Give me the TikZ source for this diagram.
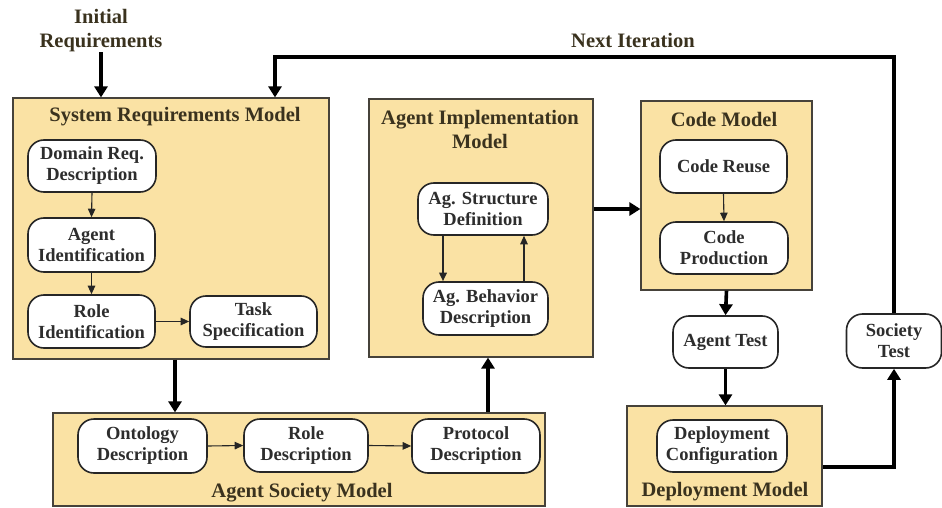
\documentclass[tikz,border=0pt]{standalone}
\usepackage{fontspec}
\setmainfont{Liberation Serif}
\usetikzlibrary{arrows.meta}
\definecolor{modelfill}{RGB}{250,226,164}
\definecolor{modeledge}{RGB}{70,66,58}
\definecolor{titlecol}{RGB}{58,50,30}
\definecolor{textcol}{RGB}{45,45,45}
\tikzset{
  x=1pt, y=-1pt,
  model/.style={draw=modeledge, line width=1.2pt, fill=modelfill, inner sep=0pt},
  activity/.style={draw=black!85, line width=1.6pt, fill=white, rounded corners=16pt,
    inner sep=0pt, align=center, text=textcol,
    font=\bfseries\fontsize{18.5}{21}\selectfont},
  heading/.style={align=center, text=titlecol, inner sep=0pt,
    font=\bfseries\fontsize{20.5}{24}\selectfont},
  flow/.style={line width=3.6pt, draw=black, -{Triangle[width=13pt,length=11pt]}},
  link/.style={line width=1.1pt, draw=black!85, -{Triangle[width=7.5pt,length=8.5pt]}},
}
\begin{document}
\begin{tikzpicture}
\useasboundingbox (0,0) rectangle (942,508);

% model containers
\node[model, minimum width=316pt, minimum height=261pt] (srm) at (171,228.5) {};
\node[model, minimum width=224pt, minimum height=258pt] (aim) at (481,228) {};
\node[model, minimum width=171pt, minimum height=189pt] (cm) at (726.5,195.5) {};
\node[model, minimum width=492pt, minimum height=93pt] (asm) at (299,459.5) {};
\node[model, minimum width=195pt, minimum height=100pt] (dm) at (724.5,456) {};

% container headings
\node[heading] (srmt) at (175,117) {System Requirements Model};
\node[heading] (aimt) at (480,129) {Agent Implementation\\Model};
\node[heading] (cmt) at (724,119) {Code Model};
\node[heading] (asmt) at (302,493) {Agent Society Model};
\node[heading] (dmt) at (725,492) {Deployment Model};
\node[heading] (init) at (101,31) {Initial\\Requirements};
\node[heading] (nextt) at (633,40) {Next Iteration};

% activities
\node[activity, minimum width=128pt, minimum height=52pt] (dom) at (92,166) {Domain Req.\\Description};
\node[activity, minimum width=127pt, minimum height=54pt] (agid) at (91.5,245) {Agent\\Identification};
\node[activity, minimum width=127pt, minimum height=53pt] (roleid) at (91.5,321.5) {Role\\Identification};
\node[activity, minimum width=127pt, minimum height=51pt] (task) at (253.5,321.5) {Task\\Specification};
\node[activity, minimum width=130pt, minimum height=52pt] (struct) at (483,209) {Ag. Structure\\Definition};
\node[activity, minimum width=125pt, minimum height=53pt] (behav) at (485.5,308.5) {Ag. Behavior\\Description};
\node[activity, minimum width=127pt, minimum height=53pt] (reuse) at (723.5,166.5) {Code Reuse};
\node[activity, minimum width=128pt, minimum height=52pt] (prod) at (724,248) {Code\\Production};
\node[activity, minimum width=105pt, minimum height=52pt] (agtest) at (725.5,342) {Agent Test};
\node[activity, minimum width=130pt, minimum height=52pt] (deploy) at (722,446) {Deployment\\Configuration};
\node[activity, minimum width=95pt, minimum height=54pt] (soctest) at (894,341) {Society\\Test};
\node[activity, minimum width=129pt, minimum height=54pt] (onto) at (142.5,446) {Ontology\\Description};
\node[activity, minimum width=124pt, minimum height=53pt] (roled) at (306,445.5) {Role\\Description};
\node[activity, minimum width=128pt, minimum height=54pt] (proto) at (476,446) {Protocol\\Description};

% flow between models
\draw[flow] (init.south) -- (init.south |- srm.north);
\coordinate (loop) at (275,57);
\draw[flow] (soctest.north) |- (loop) -- (loop |- srm.north);
\draw[flow] ([xshift=4pt]srm.south) -- ([xshift=4pt]srm.south |- asm.north);
\draw[flow] ([xshift=7pt]aim.south |- asm.north) -- ([xshift=7pt]aim.south);
\draw[flow] (aim.east |- struct.center) -- (cm.west |- struct.center);
\draw[flow] (cm.south) -- (agtest.north);
\draw[flow] (agtest.south) -- (agtest.south |- dm.north);
\draw[flow] ([yshift=-11pt]dm.east) -| (soctest.south);

% links inside models
\draw[link] (dom.south) -- (agid.north);
\draw[link] (agid.south) -- (roleid.north);
\draw[link] (roleid.east) -- (task.west);
\draw[link, line width=1.7pt] ([xshift=-40pt]struct.south) -- ([xshift=-40pt]struct.south |- behav.north);
\draw[link] ([xshift=41pt]struct.south |- behav.north) -- ([xshift=41pt]struct.south);
\draw[link] (reuse.south) -- (prod.north);
\draw[link] (onto.east) -- (roled.west);
\draw[link] (roled.east) -- (proto.west);
\end{tikzpicture}
\end{document}
